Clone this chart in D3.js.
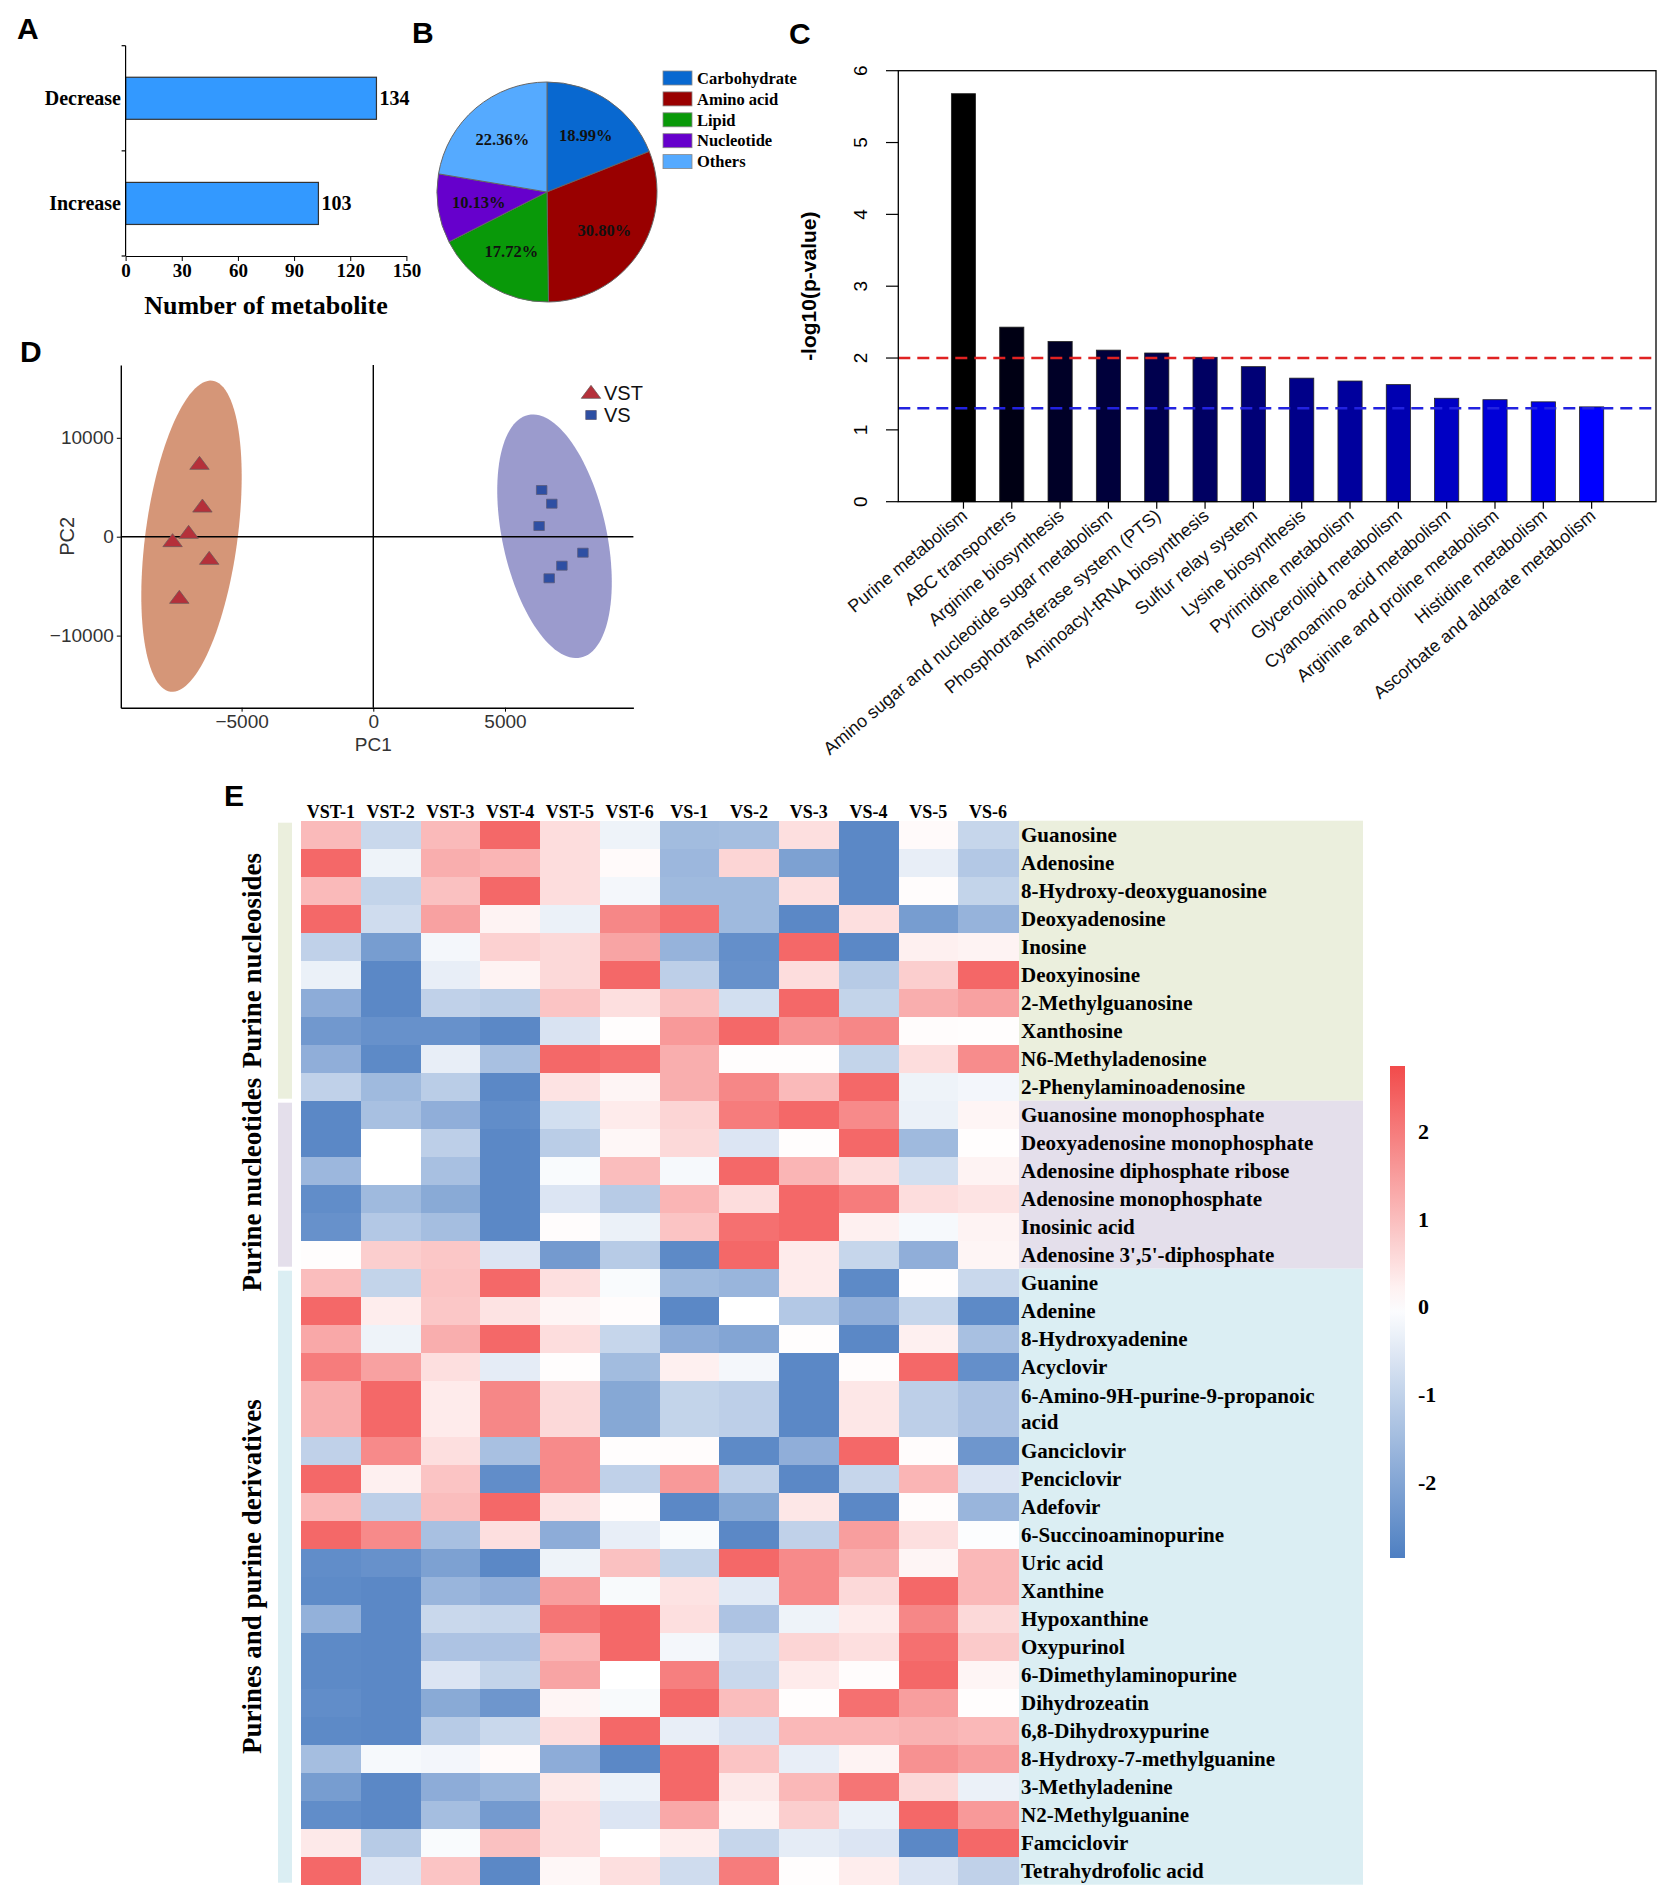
<!DOCTYPE html>
<html>
<head>
<meta charset="utf-8">
<script src="https://cdn.jsdelivr.net/npm/d3@7"></script>
<style>
body { margin: 0; background: #fff; }
</style>
</head>
<body>
<svg width="1667" height="1892"></svg>
<script>
// ---- data ----
var changeTypes = ['Decrease', 'Increase'];
var changeCounts = [134, 103];
var countTicks = [0, 30, 60, 90, 120, 150];

var classNames = ['Carbohydrate', 'Amino acid', 'Lipid', 'Nucleotide', 'Others'];
var classPercents = [18.99, 30.80, 17.72, 10.13, 22.36];

var pathways = ['Purine metabolism', 'ABC transporters', 'Arginine biosynthesis',
  'Amino sugar and nucleotide sugar metabolism', 'Phosphotransferase system (PTS)',
  'Aminoacyl-tRNA biosynthesis', 'Sulfur relay system', 'Lysine biosynthesis',
  'Pyrimidine metabolism', 'Glycerolipid metabolism', 'Cyanoamino acid metabolism',
  'Arginine and proline metabolism', 'Histidine metabolism', 'Ascorbate and aldarate metabolism'];
var pathwayLogP = [5.68, 2.43, 2.23, 2.11, 2.07, 2.01, 1.88, 1.72, 1.68, 1.63, 1.44, 1.42, 1.39, 1.32];
var pTicks = [0, 1, 2, 3, 4, 5, 6];
var cutoffs = [2, 1.3];

var groupsPCA = ['VST', 'VS'];
var pcaVST = [[-6598, 7250], [-6488, 2932], [-7012, 273], [-7620, -566], [-6230, -2356], [-7365, -6299]];
var pcaVS = [[6393, 4722], [6777, 3337], [6295, 1082], [7958, -1618], [7160, -2932], [6678, -4206]];
// ellipse: centre, then two conjugate semi-axis vectors (data units)
var ellipseVST = [[-6902, 50], [797, 15723], [1731, -627]];
var ellipseVS = [[6880, 40], [-998, 12265], [1932, 1112]];
var pcTicksX = [-5000, 0, 5000];
var pcTicksY = [-10000, 0, 10000];

var samples = ['VST-1', 'VST-2', 'VST-3', 'VST-4', 'VST-5', 'VST-6', 'VS-1', 'VS-2', 'VS-3', 'VS-4', 'VS-5', 'VS-6'];
var metabolites = ['Guanosine', 'Adenosine', '8-Hydroxy-deoxyguanosine', 'Deoxyadenosine', 'Inosine',
  'Deoxyinosine', '2-Methylguanosine', 'Xanthosine', 'N6-Methyladenosine', '2-Phenylaminoadenosine',
  'Guanosine monophosphate', 'Deoxyadenosine monophosphate', 'Adenosine diphosphate ribose',
  'Adenosine monophosphate', 'Inosinic acid', "Adenosine 3',5'-diphosphate",
  'Guanine', 'Adenine', '8-Hydroxyadenine', 'Acyclovir', '6-Amino-9H-purine-9-propanoic\nacid',
  'Ganciclovir', 'Penciclovir', 'Adefovir', '6-Succinoaminopurine', 'Uric acid', 'Xanthine',
  'Hypoxanthine', 'Oxypurinol', '6-Dimethylaminopurine', 'Dihydrozeatin', '6,8-Dihydroxypurine',
  '8-Hydroxy-7-methylguanine', '3-Methyladenine', 'N2-Methylguanine', 'Famciclovir', 'Tetrahydrofolic acid'];
var groupNames = ['Purine nucleosides', 'Purine nucleotides', 'Purines and purine derivatives'];
var groupSizes = [10, 6, 21];
var zScores = [
  [1.05, -0.87, 1.05, 2.3, 0.52, -0.27, -1.5, -1.45, 0.48, -2.65, 0.08, -0.92],
  [2.3, -0.27, 1.23, 1.12, 0.52, 0.08, -1.6, 0.64, -2.1, -2.65, -0.37, -1.22],
  [1.05, -0.97, 0.95, 2.3, 0.52, -0.18, -1.55, -1.55, 0.48, -2.65, 0.05, -0.97],
  [2.3, -0.78, 1.43, 0.18, -0.32, 1.82, 2.18, -1.55, -2.65, 0.48, -2.2, -1.7],
  [-1.02, -2.2, -0.18, 0.7, 0.58, 1.38, -1.7, -2.5, 2.3, -2.65, 0.23, 0.18],
  [-0.32, -2.65, -0.37, 0.18, 0.58, 2.3, -1.07, -2.45, 0.52, -1.17, 0.75, 2.32],
  [-1.85, -2.65, -1.02, -1.12, 0.9, 0.48, 0.95, -0.72, 2.3, -0.97, 1.23, 1.43],
  [-2.3, -2.45, -2.45, -2.65, -0.62, 0.03, 1.55, 2.3, 1.63, 1.82, 0.05, 0.03],
  [-1.8, -2.62, -0.37, -1.4, 2.3, 2.18, 1.23, 0.03, 0.03, -0.97, 0.52, 1.75],
  [-1.02, -1.55, -1.12, -2.65, 0.43, 0.15, 1.23, 1.82, 1.05, 2.3, -0.27, -0.2],
  [-2.65, -1.4, -1.8, -2.55, -0.72, 0.3, 0.64, 2.0, 2.3, 1.78, -0.32, 0.15],
  [-2.65, 0, -1.07, -2.65, -1.12, 0.12, 0.58, -0.57, 0.03, 2.3, -1.55, 0.03],
  [-1.6, 0, -1.4, -2.65, -0.09, 1.0, -0.14, 2.3, 1.12, 0.52, -0.72, 0.18],
  [-2.55, -1.55, -1.9, -2.65, -0.57, -1.17, 1.12, 0.52, 2.3, 2.0, 0.52, 0.43],
  [-2.45, -1.22, -1.45, -2.65, 0.05, -0.32, 0.9, 2.18, 2.3, 0.23, -0.14, 0.18],
  [0.03, 0.75, 0.85, -0.57, -2.25, -1.17, -2.62, 2.3, 0.3, -0.92, -1.8, 0.15],
  [1.0, -0.97, 0.9, 2.3, 0.48, -0.09, -1.55, -1.65, 0.3, -2.62, 0.03, -0.87],
  [2.3, 0.27, 0.85, 0.43, 0.15, 0.05, -2.65, 0, -1.22, -1.8, -0.92, -2.62],
  [1.33, -0.27, 1.23, 2.3, 0.52, -0.92, -1.85, -2.0, 0.03, -2.65, 0.23, -1.4],
  [2.0, 1.43, 0.48, -0.42, 0.03, -1.5, 0.23, -0.18, -2.65, 0.05, 2.3, -2.5],
  [1.23, 2.3, 0.3, 1.82, 0.58, -1.95, -0.97, -1.07, -2.65, 0.37, -1.07, -1.33],
  [-1.02, 1.78, 0.48, -1.4, 1.78, 0.03, 0.05, -2.62, -1.8, 2.3, 0.05, -2.35],
  [2.3, 0.23, 0.9, -2.55, 1.78, -1.02, 1.55, -1.02, -2.65, -0.92, 1.12, -0.57],
  [1.08, -1.07, 1.0, 2.3, 0.43, 0.03, -2.65, -1.95, 0.37, -2.65, 0.05, -1.65],
  [2.3, 1.78, -1.4, 0.48, -1.85, -0.37, -0.09, -2.65, -1.02, 1.47, 0.48, -0.05],
  [-2.55, -2.45, -2.1, -2.65, -0.27, 0.95, -0.97, 2.3, 1.78, 1.23, 0.15, 1.08],
  [-2.6, -2.65, -1.65, -1.8, 1.47, -0.12, 0.43, -0.48, 1.78, 0.58, 2.3, 1.08],
  [-1.75, -2.65, -0.87, -0.92, 2.1, 2.3, 0.48, -1.33, -0.27, 0.3, 1.82, 0.58],
  [-2.62, -2.65, -1.33, -1.33, 1.12, 2.3, -0.18, -0.72, 0.64, 0.48, 2.18, 0.8],
  [-2.62, -2.65, -0.57, -0.97, 1.38, 0, 1.95, -0.87, 0.3, 0.05, 2.3, 0.15],
  [-2.55, -2.65, -1.9, -2.35, 0.15, -0.12, 2.3, 1.0, 0.03, 2.18, 1.47, 0.03],
  [-2.62, -2.65, -1.17, -0.87, 0.52, 2.3, -0.37, -0.62, 1.08, 1.08, 1.17, 1.08],
  [-1.45, -0.14, -0.2, 0.08, -1.85, -2.65, 2.3, 0.9, -0.37, 0.18, 1.67, 1.47],
  [-2.2, -2.65, -1.85, -1.65, 0.33, -0.3, 2.3, 0.33, 1.08, 2.1, 0.58, -0.32],
  [-2.55, -2.65, -1.45, -2.25, 0.52, -0.57, 1.33, 0.18, 0.75, -0.32, 2.3, 1.55],
  [0.33, -1.17, -0.09, 0.95, 0.52, 0, 0.27, -0.92, -0.42, -0.57, -2.65, 2.3],
  [2.3, -0.57, 0.9, -2.65, 0.12, 0.48, -0.78, 2.0, 0.03, 0.27, -0.57, -1.02]
];
var legendTicks = [2, 1, 0, -1, -2];

// ---- drawing ----
var svg = d3.select('svg');
var SERIF = "'Liberation Serif','Times New Roman',serif";
var SANS = "'Liberation Sans',Arial,sans-serif";

svg.append('rect').attr('width', 1667).attr('height', 1892).attr('fill', '#fff');

function letter(t, x, y) {
  svg.append('text').attr('x', x).attr('y', y).text(t)
    .style('font-family', SANS).style('font-weight', 'bold').style('font-size', '30px');
}
letter('A', 17, 39);
letter('B', 412, 43);
letter('C', 789, 44);
letter('D', 20, 362);
letter('E', 224, 806);

// ===== A: bar chart =====
var xA = d3.scaleLinear().domain([0, 150]).range([125.6, 406.4]);
var yA = d3.scaleBand().domain(changeTypes).range([45.7, 256]).paddingInner(0.6).paddingOuter(0.3);

svg.selectAll('.barA').data(changeCounts).enter().append('rect')
  .attr('class', 'barA')
  .attr('x', xA(0))
  .attr('y', function(d, i) { return yA(changeTypes[i]); })
  .attr('width', function(d) { return xA(d) - xA(0); })
  .attr('height', yA.bandwidth())
  .style('fill', '#3399FF')
  .style('stroke', '#333')
  .style('stroke-width', 1.2);

svg.selectAll('.valA').data(changeCounts).enter().append('text')
  .attr('x', function(d) { return xA(d) + 3; })
  .attr('y', function(d, i) { return yA(changeTypes[i]) + yA.bandwidth() / 2; })
  .attr('dy', '0.35em')
  .text(function(d) { return d; })
  .style('font-family', SERIF).style('font-weight', 'bold').style('font-size', '20px');

svg.selectAll('.catA').data(changeTypes).enter().append('text')
  .attr('x', 121)
  .attr('y', function(d) { return yA(d) + yA.bandwidth() / 2; })
  .attr('dy', '0.35em')
  .attr('text-anchor', 'end')
  .text(function(d) { return d; })
  .style('font-family', SERIF).style('font-weight', 'bold').style('font-size', '20px');

svg.append('line').attr('x1', xA(0)).attr('x2', xA(0)).attr('y1', 45.7).attr('y2', 256)
  .style('stroke', '#000').style('stroke-width', 1.2);
svg.selectAll('.tickA').data([0, 1, 2]).enter().append('line')
  .attr('x1', xA(0) - 4).attr('x2', xA(0))
  .attr('y1', function(d) { return 45.7 + d * yA.step(); })
  .attr('y2', function(d) { return 45.7 + d * yA.step(); })
  .style('stroke', '#000').style('stroke-width', 1.2);

var axA = svg.append('g').attr('transform', 'translate(0,256)')
  .call(d3.axisBottom(xA).tickValues(countTicks).tickSize(5).tickSizeOuter(0));
axA.select('.domain').style('stroke-width', 1.2);
axA.selectAll('text').style('font-family', SERIF).style('font-weight', 'bold')
  .style('font-size', '19px').style('fill', '#000');

svg.append('text').attr('x', 266).attr('y', 314).attr('text-anchor', 'middle')
  .text('Number of metabolite')
  .style('font-family', SERIF).style('font-weight', 'bold').style('font-size', '26px');

// ===== B: pie =====
var pieColors = ['#0868D0', '#990000', '#099909', '#6600CC', '#55AAFF'];
var pie = d3.pie().sort(null).value(function(d) { return d; });
var arcs = pie(classPercents);
var arc = d3.arc().innerRadius(0).outerRadius(110);
var labelArc = d3.arc().innerRadius(69).outerRadius(69);
var gB = svg.append('g').attr('transform', 'translate(547,192)');
gB.selectAll('path').data(arcs).enter().append('path')
  .attr('d', arc)
  .style('fill', function(d, i) { return pieColors[i]; })
  .style('stroke', '#666').style('stroke-width', 1);
gB.selectAll('text').data(arcs).enter().append('text')
  .attr('transform', function(d) { return 'translate(' + labelArc.centroid(d) + ')'; })
  .attr('text-anchor', 'middle').attr('dy', '0.35em')
  .text(function(d) { return d.data.toFixed(2) + '%'; })
  .style('font-family', SERIF).style('font-weight', 'bold').style('font-size', '16.5px')
  .style('fill', '#111');

var legB = svg.append('g');
legB.selectAll('rect').data(classNames).enter().append('rect')
  .attr('x', 663).attr('y', function(d, i) { return 71 + i * 20.9; })
  .attr('width', 29).attr('height', 14)
  .style('fill', function(d, i) { return pieColors[i]; })
  .style('stroke', '#888').style('stroke-width', 0.8);
legB.selectAll('text').data(classNames).enter().append('text')
  .attr('x', 697).attr('y', function(d, i) { return 78 + i * 20.9; })
  .attr('dy', '0.35em')
  .text(function(d) { return d; })
  .style('font-family', SERIF).style('font-weight', 'bold').style('font-size', '16.5px');

// ===== C: enrichment bars =====
var xC = d3.scaleBand().domain(pathways).range([939.3, 1615.8]).paddingInner(0.5).paddingOuter(0.25);
var yC = d3.scaleLinear().domain([0, 6]).range([501.7, 70.7]);
var shadeC = function(i) { return d3.interpolateRgb('#000000', '#0000FF')(i / (pathways.length - 1)); };

svg.selectAll('.barC').data(pathwayLogP).enter().append('rect')
  .attr('x', function(d, i) { return xC(pathways[i]); })
  .attr('y', function(d) { return yC(d); })
  .attr('width', xC.bandwidth())
  .attr('height', function(d) { return yC(0) - yC(d); })
  .style('fill', function(d, i) { return shadeC(i); })
  .style('stroke', '#222').style('stroke-width', 0.8);

svg.selectAll('.cut').data(cutoffs).enter().append('line')
  .attr('x1', 898.3).attr('x2', 1656)
  .attr('y1', function(d) { return yC(d); })
  .attr('y2', function(d) { return yC(d); })
  .style('stroke', function(d, i) { return i === 0 ? '#E02222' : '#2222E0'; })
  .style('stroke-width', 2.4)
  .style('stroke-dasharray', '12,7');

svg.append('rect').attr('x', 898.3).attr('y', yC(6)).attr('width', 1656 - 898.3).attr('height', yC(0) - yC(6))
  .style('fill', 'none').style('stroke', '#000').style('stroke-width', 1.3);

svg.selectAll('.ytC').data(pTicks).enter().append('line')
  .attr('x1', 886).attr('x2', 898.3)
  .attr('y1', function(d) { return yC(d); }).attr('y2', function(d) { return yC(d); })
  .style('stroke', '#000').style('stroke-width', 1.2);
svg.selectAll('.ylC').data(pTicks).enter().append('text')
  .attr('transform', function(d) { return 'translate(867,' + yC(d) + ') rotate(-90)'; })
  .attr('text-anchor', 'middle')
  .text(function(d) { return d; })
  .style('font-family', SANS).style('font-size', '19px');

svg.selectAll('.xtC').data(pathways).enter().append('line')
  .attr('x1', function(d) { return xC(d) + xC.bandwidth() / 2; })
  .attr('x2', function(d) { return xC(d) + xC.bandwidth() / 2; })
  .attr('y1', yC(0)).attr('y2', yC(0) + 7)
  .style('stroke', '#000').style('stroke-width', 1.2);
svg.selectAll('.xlC').data(pathways).enter().append('text')
  .attr('transform', function(d) {
    return 'translate(' + (xC(d) + xC.bandwidth() / 2 + 5) + ',' + (yC(0) + 16) + ') rotate(-40)';
  })
  .attr('text-anchor', 'end')
  .text(function(d) { return d; })
  .style('font-family', SANS).style('font-size', '18px').style('fill', '#111');

svg.append('text')
  .attr('transform', 'translate(816,' + ((yC(0) + yC(6)) / 2) + ') rotate(-90)')
  .attr('text-anchor', 'middle')
  .text('-log10(p-value)')
  .style('font-family', SANS).style('font-weight', 'bold').style('font-size', '21px');

// ===== D: PCA =====
var xD = d3.scaleLinear().domain([-9586, 9875]).range([120.8, 633.4]);
var yD = d3.scaleLinear().domain([-17290, 17361]).range([707.7, 365]);

function ellipsePath(e) {
  var pts = d3.range(0, 2 * Math.PI + 0.01, Math.PI / 60).map(function(t) {
    return [xD(e[0][0] + Math.cos(t) * e[1][0] + Math.sin(t) * e[2][0]),
            yD(e[0][1] + Math.cos(t) * e[1][1] + Math.sin(t) * e[2][1])];
  });
  return d3.line()(pts) + 'Z';
}
svg.append('path').attr('d', ellipsePath(ellipseVST)).style('fill', '#D59678');
svg.append('path').attr('d', ellipsePath(ellipseVS)).style('fill', '#9B9BCD');

svg.append('line').attr('x1', xD.range()[0]).attr('x2', xD.range()[1]).attr('y1', yD(0)).attr('y2', yD(0))
  .style('stroke', '#000').style('stroke-width', 1.4);
svg.append('line').attr('x1', xD(0)).attr('x2', xD(0)).attr('y1', yD.range()[1]).attr('y2', yD.range()[0])
  .style('stroke', '#000').style('stroke-width', 1.4);

var triangle = d3.symbol().type(d3.symbolTriangle).size(135);
var square = d3.symbol().type(d3.symbolSquare).size(100);
svg.selectAll('.vst').data(pcaVST).enter().append('path')
  .attr('d', triangle)
  .attr('transform', function(d) { return 'translate(' + xD(d[0]) + ',' + yD(d[1]) + ') scale(1.1,0.85)'; })
  .style('fill', '#B5303A').style('stroke', '#6e5a5a').style('stroke-width', 0.8);
svg.selectAll('.vs').data(pcaVS).enter().append('path')
  .attr('d', square)
  .attr('transform', function(d) { return 'translate(' + xD(d[0]) + ',' + yD(d[1]) + ') scale(1.05,0.9)'; })
  .style('fill', '#2E4FA3').style('stroke', '#5a5a7a').style('stroke-width', 0.8);

var axDx = svg.append('g').attr('transform', 'translate(0,' + yD.range()[0] + ')')
  .call(d3.axisBottom(xD).tickValues(pcTicksX).tickSize(4).tickSizeOuter(0).tickFormat(d3.format('d')));
var axDy = svg.append('g').attr('transform', 'translate(' + xD.range()[0] + ',0)')
  .call(d3.axisLeft(yD).tickValues(pcTicksY).tickSize(4).tickSizeOuter(0).tickFormat(d3.format('d')));
[axDx, axDy].forEach(function(a) {
  a.select('.domain').style('stroke-width', 1.4);
  a.selectAll('text').style('font-family', SANS).style('font-size', '19px').style('fill', '#333');
});
svg.append('text').attr('x', xD(0)).attr('y', 751).attr('text-anchor', 'middle').text('PC1')
  .style('font-family', SANS).style('font-size', '19px').style('fill', '#333');
svg.append('text').attr('transform', 'translate(74,' + ((yD.range()[0] + yD.range()[1]) / 2) + ') rotate(-90)')
  .attr('text-anchor', 'middle').text('PC2')
  .style('font-family', SANS).style('font-size', '20px').style('fill', '#333');

svg.append('path').attr('d', triangle).attr('transform', 'translate(591,394) scale(1.1,0.85)')
  .style('fill', '#B5303A').style('stroke', '#6e5a5a').style('stroke-width', 0.8);
svg.append('path').attr('d', square).attr('transform', 'translate(591,415) scale(1.05,0.9)')
  .style('fill', '#2E4FA3').style('stroke', '#5a5a7a').style('stroke-width', 0.8);
svg.selectAll('.legD').data(groupsPCA).enter().append('text')
  .attr('x', 604).attr('y', function(d, i) { return 393 + i * 22; })
  .attr('dy', '0.35em').text(function(d) { return d; })
  .style('font-family', SANS).style('font-size', '20px').style('fill', '#111');

// ===== E: heatmap =====
var rowUnits = metabolites.map(function(m) { return m.split('\n').length; });
var rowStart = [];
rowUnits.reduce(function(acc, u, i) { rowStart[i] = acc; return acc + u; }, 0);
var totalUnits = d3.sum(rowUnits);
var yE = d3.scaleLinear().domain([0, totalUnits]).range([820.7, 1884.7]);
var xE = d3.scaleBand().domain(samples).range([301, 1018]);
var colorE = d3.scaleLinear().domain([-2.86, 0, 2.74]).range(['#4E7FC2', '#FFFFFF', '#F24B4B']);
var bandColors = ['#EBEFDD', '#E4DFEB', '#DBEEF3'];

var groupStart = [];
groupSizes.reduce(function(acc, n, i) { groupStart[i] = acc; return acc + n; }, 0);
function groupY0(i) { return yE(rowStart[groupStart[i]]); }
function groupY1(i) {
  var last = groupStart[i] + groupSizes[i] - 1;
  return yE(rowStart[last] + rowUnits[last]);
}

svg.selectAll('.bandR').data(groupNames).enter().append('rect')
  .attr('x', 1018).attr('width', 1363 - 1018)
  .attr('y', function(d, i) { return groupY0(i); })
  .attr('height', function(d, i) { return groupY1(i) - groupY0(i); })
  .style('fill', function(d, i) { return bandColors[i]; });
svg.selectAll('.bandL').data(groupNames).enter().append('rect')
  .attr('x', 278).attr('width', 14)
  .attr('y', function(d, i) { return groupY0(i) + 2; })
  .attr('height', function(d, i) { return groupY1(i) - groupY0(i) - 4; })
  .style('fill', function(d, i) { return bandColors[i]; });
svg.selectAll('.groupLab').data(groupNames).enter().append('text')
  .attr('transform', function(d, i) {
    return 'translate(252,' + ((groupY0(i) + groupY1(i)) / 2) + ') rotate(-90)';
  })
  .attr('text-anchor', 'middle').attr('dy', '0.35em')
  .text(function(d) { return d; })
  .style('font-family', SERIF).style('font-weight', 'bold').style('font-size', '27px');

var rowsE = svg.append('g').style('shape-rendering', 'crispEdges');
zScores.forEach(function(row, r) {
  rowsE.selectAll('.r' + r).data(row).enter().append('rect')
    .attr('x', function(d, c) { return xE(samples[c]); })
    .attr('y', yE(rowStart[r]))
    .attr('width', xE.bandwidth() + 0.5)
    .attr('height', yE(rowStart[r] + rowUnits[r]) - yE(rowStart[r]) + 0.5)
    .style('fill', function(d) { return colorE(d); });
});

svg.selectAll('.colLab').data(samples).enter().append('text')
  .attr('x', function(d) { return xE(d) + xE.bandwidth() / 2; })
  .attr('y', 812).attr('dy', '0.35em').attr('text-anchor', 'middle')
  .text(function(d) { return d; })
  .style('font-family', SERIF).style('font-weight', 'bold').style('font-size', '18px');

metabolites.forEach(function(m, r) {
  var lines = m.split('\n');
  var mid = (yE(rowStart[r]) + yE(rowStart[r] + rowUnits[r])) / 2;
  lines.forEach(function(l, k) {
    svg.append('text').attr('x', 1021)
      .attr('y', mid + (k - (lines.length - 1) / 2) * 26)
      .attr('dy', '0.35em').text(l)
      .style('font-family', SERIF).style('font-weight', 'bold').style('font-size', '21px');
  });
});

// colour key
var yKey = d3.scaleLinear().domain([2.74, -2.86]).range([1066, 1558]);
var grad = svg.append('defs').append('linearGradient').attr('id', 'keyGrad')
  .attr('x1', 0).attr('x2', 0).attr('y1', 0).attr('y2', 1);
d3.range(0, 1.0001, 0.05).forEach(function(t) {
  var v = yKey.invert(1066 + t * (1558 - 1066));
  grad.append('stop').attr('offset', t).attr('stop-color', colorE(v));
});
svg.append('rect').attr('x', 1390).attr('y', 1066).attr('width', 15).attr('height', 1558 - 1066)
  .style('fill', 'url(#keyGrad)');
svg.selectAll('.keyLab').data(legendTicks).enter().append('text')
  .attr('x', 1418).attr('y', function(d) { return yKey(d); })
  .attr('dy', '0.35em')
  .text(function(d) { return d; })
  .style('font-family', SERIF).style('font-weight', 'bold').style('font-size', '22px');
</script>
</body>
</html>
